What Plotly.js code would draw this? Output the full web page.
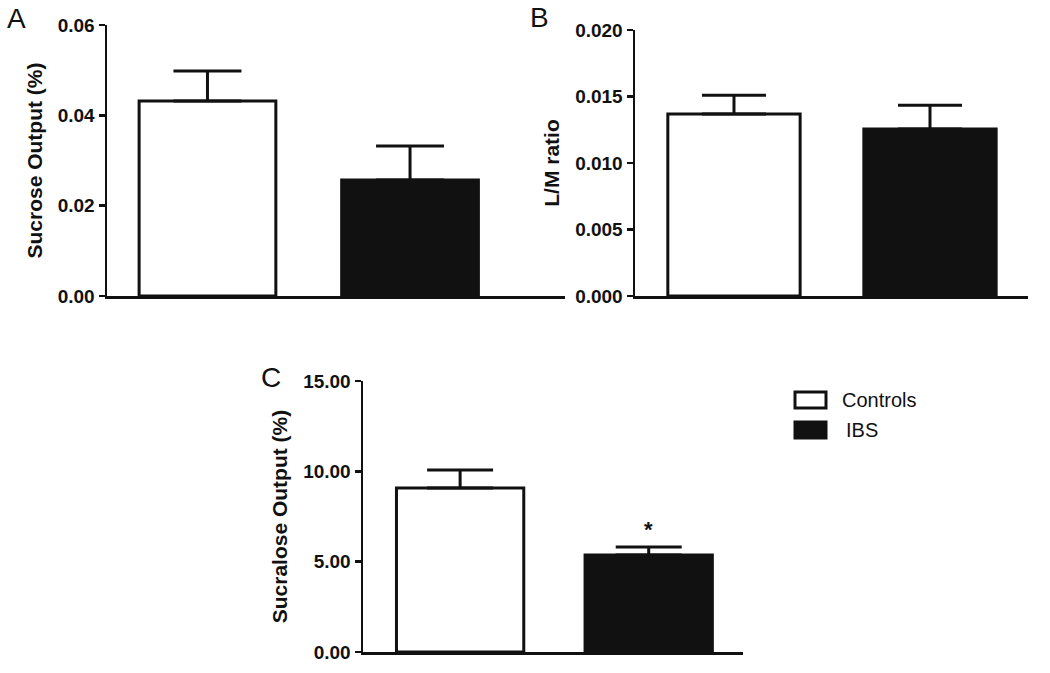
<!DOCTYPE html>
<html>
<head>
<meta charset="utf-8">
<script src="https://cdn.plot.ly/plotly-3.0.1.min.js"></script>
<style>html,body{margin:0;padding:0;background:#fff;}#chart{width:1050px;height:673px;}</style>
</head>
<body>
<div id="chart"></div>
<script>
// Data
const groups = ["Controls", "IBS"];
const sucroseMean = [0.0432, 0.0257];
const sucroseSEM  = [0.0066, 0.0075];
const lmMean = [0.01368, 0.01256];
const lmSEM  = [0.00141, 0.00178];
const sucraloseMean = [9.08, 5.37];
const sucraloseSEM  = [0.99, 0.44];
const panelLabels = ["A", "B", "C"];
const yTitles = ["Sucrose Output (%)", "L/M ratio", "Sucralose Output (%)"];

const W = 1050, H = 673;
const fillColors = ["#ffffff", "#111111"];
const FONT = "Liberation Sans, Arial, sans-serif";

function px(x){ return x / W; }
function py(y){ return 1 - y / H; }

const panels = [
  {mean: sucroseMean, sem: sucroseSEM, xa: "x", ya: "y", cap: 34},
  {mean: lmMean, sem: lmSEM, xa: "x2", ya: "y2", cap: 32},
  {mean: sucraloseMean, sem: sucraloseSEM, xa: "x3", ya: "y3", cap: 33}
];

const traces = [];
panels.forEach((p, pi) => {
  groups.forEach((g, gi) => {
    traces.push({
      type: "bar",
      name: g,
      x: [gi],
      y: [p.mean[gi]],
      width: 0.675,
      xaxis: p.xa, yaxis: p.ya,
      marker: {color: fillColors[gi], line: {color: "#111111", width: 3}},
      error_y: {type: "data", symmetric: false, array: [p.sem[gi]], arrayminus: [0],
                color: "#111111", thickness: 3, width: p.cap},
      showlegend: false,
      hoverinfo: "y"
    });
  });
});

const axisCommon = {
  showgrid: false, zeroline: false, showline: true, linecolor: "#111111", linewidth: 2.5,
  ticks: "outside", ticklen: 6, tickwidth: 2.5, tickcolor: "#111111",
  tickfont: {family: FONT, size: 19, color: "#111111", weight: "bold"}
};
const xCommon = {showgrid: false, zeroline: false, showline: true, linecolor: "#111111", linewidth: 2.5,
  ticks: "", showticklabels: false, fixedrange: true};

function ytitle(t){ return {text: t, font: {family: FONT, size: 21, color: "#111111", weight: "bold"}, standoff: 10}; }

// Legend drawn as boxes + text in panel C's area
const legendBoxes = [
  {x0: 795, x1: 826, y0: 392, y1: 408},
  {x0: 795, x1: 826, y0: 422, y1: 438}
];
const shapes = legendBoxes.map((b, i) => ({
  type: "rect", xref: "paper", yref: "paper",
  x0: px(b.x0), x1: px(b.x1), y0: py(b.y1), y1: py(b.y0),
  fillcolor: fillColors[i], line: {color: "#111111", width: 3}
}));
const legendText = groups.map((g, i) => ({
  xref: "paper", yref: "paper", x: px(i === 0 ? 840 : 844), y: py((legendBoxes[i].y0 + legendBoxes[i].y1) / 2),
  xanchor: "left", yanchor: "middle", text: g, showarrow: false,
  font: {family: FONT, size: 20, color: "#111111"}
}));

const layout = {
  width: W, height: H,
  margin: {l: 0, r: 0, t: 0, b: 0},
  paper_bgcolor: "#ffffff", plot_bgcolor: "#ffffff",
  bargap: 0,
  showlegend: false,
  xaxis:  Object.assign({}, xCommon, {domain: [px(107), px(565)], range: [-0.496, 1.765], anchor: "y"}),
  yaxis:  Object.assign({}, axisCommon, {domain: [py(296), py(25)], range: [0, 0.06], dtick: 0.02, tickformat: ".2f", anchor: "x", title: ytitle(yTitles[0])}),
  xaxis2: Object.assign({}, xCommon, {domain: [px(635), px(1028)], range: [-0.505, 1.5], anchor: "y2"}),
  yaxis2: Object.assign({}, axisCommon, {domain: [py(296), py(30)], range: [0, 0.02], dtick: 0.005, tickformat: ".3f", anchor: "x2", title: ytitle(yTitles[1])}),
  xaxis3: Object.assign({}, xCommon, {domain: [px(363), px(743)], range: [-0.515, 1.5], anchor: "y3"}),
  yaxis3: Object.assign({}, axisCommon, {domain: [py(652), py(381)], range: [0, 15], dtick: 5, tickformat: ".2f", anchor: "x3", title: ytitle(yTitles[2])}),
  shapes: shapes,
  annotations: [
    {xref: "paper", yref: "paper", x: px(5), y: py(1), xanchor: "left", yanchor: "top", text: panelLabels[0], showarrow: false, font: {family: FONT, size: 28, color: "#111111"}},
    {xref: "paper", yref: "paper", x: px(528), y: py(0), xanchor: "left", yanchor: "top", text: panelLabels[1], showarrow: false, font: {family: FONT, size: 28, color: "#111111"}},
    {xref: "paper", yref: "paper", x: px(259), y: py(360), xanchor: "left", yanchor: "top", text: panelLabels[2], showarrow: false, font: {family: FONT, size: 28, color: "#111111"}},
    {xref: "x3", yref: "y3", x: 1, y: 6.8, text: "*", showarrow: false, font: {family: FONT, size: 22, color: "#111111", weight: "bold"}}
  ].concat(legendText)
};

Plotly.newPlot("chart", traces, layout, {displayModeBar: false, staticPlot: true});
</script>
</body>
</html>
